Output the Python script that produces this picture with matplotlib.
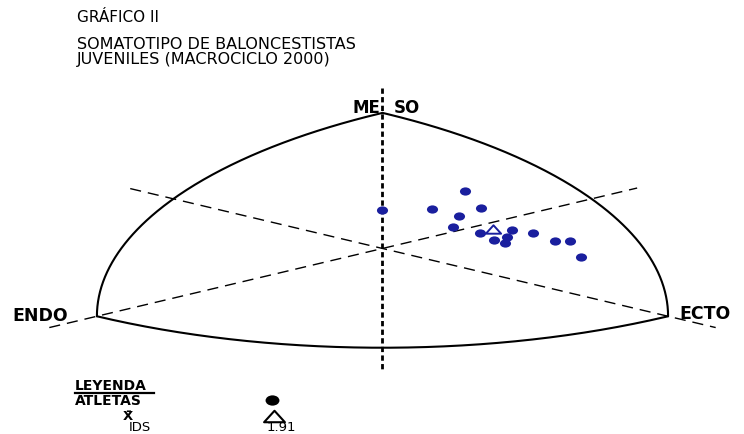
import numpy as np
import matplotlib
matplotlib.use('Agg')
import matplotlib.pyplot as plt
from matplotlib.path import Path
from matplotlib.transforms import Affine2D

# ---- data (somatochart coordinates: X = ecto - endo, Y = 2*meso - (endo + ecto)) ----
athlete_x = [1.74, 1.03, 2.08, 1.60, 1.49, 2.04, 2.73, 3.17, 2.35, 2.61, 2.58, 3.63, 3.93, 4.16, 0.00]
athlete_y = [5.09, 3.50, 3.58, 2.88, 1.90, 1.37, 1.64, 1.37, 0.75, 1.02, 0.49, 0.66, 0.66, -0.75, 3.41]
mean_x = [2.33]
mean_y = [1.73]
corner_names = ['ENDO', 'MESO', 'ECTO']
corner_x = [-6.0, 0.0, 6.0]
corner_y = [-6.0, 12.0, -6.0]
ids_value = '1.91'
title_top = 'GRÁFICO II'
title_lines = ['SOMATOTIPO DE BALONCESTISTAS', 'JUVENILES (MACROCICLO 2000)']

W, H = 744, 434
fig = plt.figure(figsize=(W / 100, H / 100), dpi=100)
ax = fig.add_axes([0, 0, 1, 1])
ax.set_xlim(-8.036, 7.595)
ax.set_ylim(-16.42, 21.99)
ax.axis('off')

def px(x, y):
    return x / W, 1 - y / H

ink = 'black'
blue = '#1a1f9e'

# Reuleaux-type arcs (circles of radius 12 in (X, Y/sqrt3) space centred at opposite corner)
s3 = np.sqrt(3.0)
R = 12.0
def arc(cx, cy, t0, t1):
    t = np.radians(np.linspace(t0, t1, 200))
    return cx + R * np.cos(t), cy + R * s3 * np.sin(t)

endo = (corner_x[0], corner_y[0]); meso = (corner_x[1], corner_y[1]); ecto = (corner_x[2], corner_y[2])
for (c, a0, a1) in [(ecto, 120, 180), (endo, 0, 60), (meso, 240, 300)]:
    xs, ys = arc(c[0], c[1], a0, a1)
    ax.plot(xs, ys, color=ink, lw=1.5, solid_capstyle='round')

# axes of the somatochart
ax.plot([0, 0], [14.2, -10.9], color=ink, lw=2.0, dashes=(1.9, 1.2))
ax.plot([-7.0, 5.35], [-7.0, 5.35], color=ink, lw=1.0, dashes=(8, 5))
ax.plot([-5.3, 7.0], [5.3, -7.0], color=ink, lw=1.0, dashes=(8, 5))

# markers
ell = Path.unit_circle().transformed(Affine2D().scale(1.35, 1.0))
tri = Path([(-1.0, -0.55), (1.0, -0.55), (0.0, 0.55), (-1.0, -0.55)],
           [Path.MOVETO, Path.LINETO, Path.LINETO, Path.CLOSEPOLY])
ax.plot(athlete_x, athlete_y, linestyle='none', marker=ell, markersize=8,
        color=blue, markeredgewidth=0)
ax.plot(mean_x, mean_y, linestyle='none', marker=tri, markersize=11,
        markerfacecolor='none', markeredgecolor=blue, markeredgewidth=1.4)

# corner labels
fs_lab = 12.5
fig.text(*px(12, 316), corner_names[0], fontsize=fs_lab, fontweight='bold',
         ha='left', va='center')
fig.text(*px(679, 314), corner_names[2], fontsize=fs_lab, fontweight='bold',
         ha='left', va='center')
fig.text(*px(380, 108), corner_names[1][:2], fontsize=12, fontweight='bold',
         ha='right', va='center')
fig.text(*px(394, 108), corner_names[1][2:], fontsize=12, fontweight='bold',
         ha='left', va='center')

# titles
fig.text(*px(77, 18), title_top, fontsize=11, ha='left', va='center')
fig.text(*px(77, 52), '\n'.join(title_lines), fontsize=11.5, ha='left',
         va='center', linespacing=0.95)

# legend
fs_leg = 9.5
fig.text(*px(75, 386), 'LEYENDA', fontsize=fs_leg + 0.5, fontweight='bold',
         ha='left', va='center')
fig.lines.append(plt.Line2D([75 / W, 154 / W], [1 - 392.5 / H, 1 - 392.5 / H],
                            transform=fig.transFigure, color=ink, lw=1.6))
fig.text(*px(75, 401), 'ATLETAS', fontsize=fs_leg + 0.5, fontweight='bold',
         ha='left', va='center')
fig.text(*px(128, 416), 'X\u0304', fontsize=fs_leg, fontweight='bold',
         ha='center', va='center')
fig.text(*px(140, 434), 'IDS', fontsize=fs_leg, ha='center', va='bottom')
fig.text(*px(281, 434), ids_value, fontsize=fs_leg, ha='center', va='bottom')
fig.lines.append(plt.Line2D([272 / W], [1 - 400 / H], transform=fig.transFigure,
                            linestyle='none', marker=ell, markersize=10,
                            color=ink, markeredgewidth=0))
fig.lines.append(plt.Line2D([274 / W], [1 - 416 / H], transform=fig.transFigure,
                            linestyle='none', marker=tri, markersize=15,
                            markerfacecolor='none', markeredgecolor=ink,
                            markeredgewidth=1.5))

fig.savefig('out.png', dpi=100)
